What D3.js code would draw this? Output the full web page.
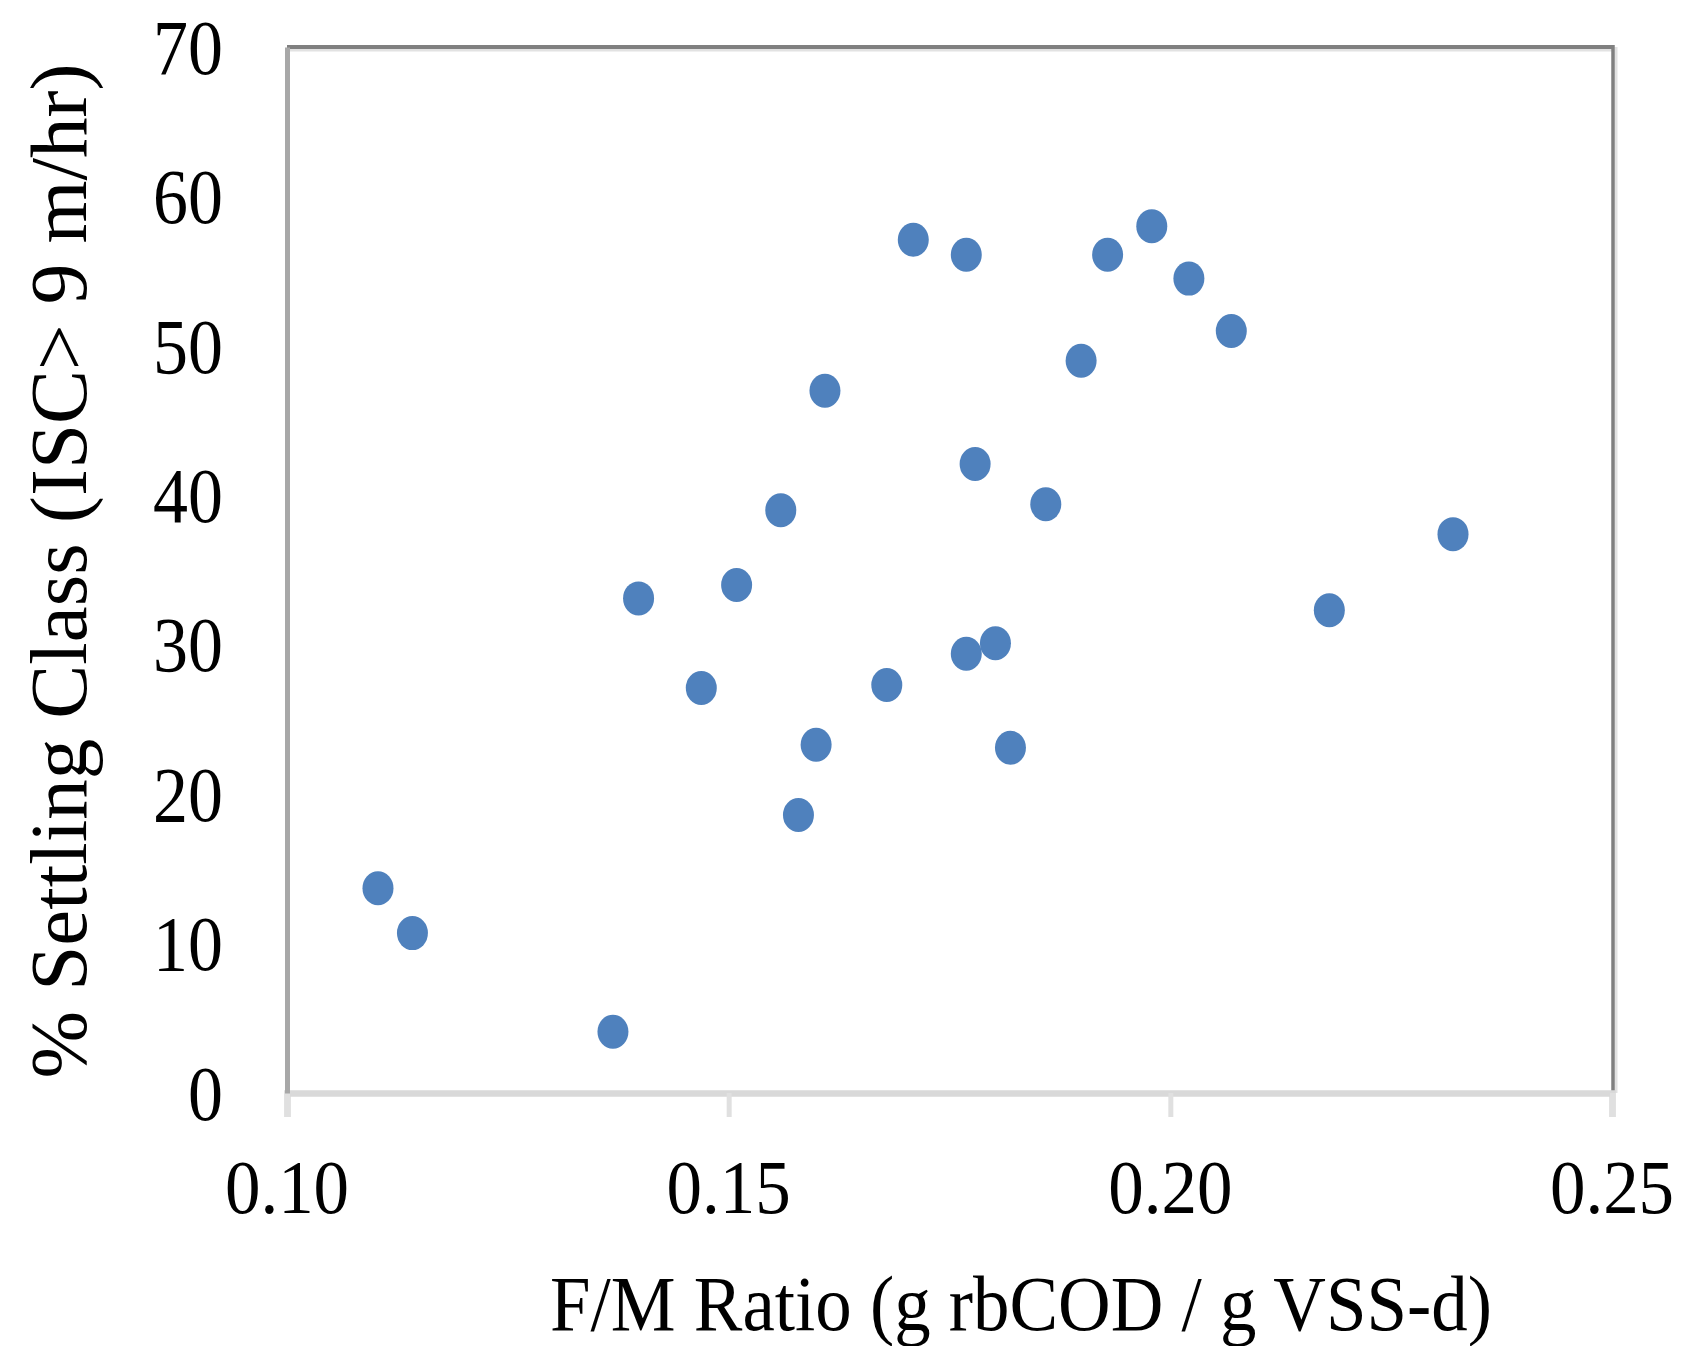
<!DOCTYPE html>
<html>
<head>
<meta charset="utf-8">
<script src="https://cdn.jsdelivr.net/npm/d3@7/dist/d3.min.js"></script>
<style>
  html, body { margin: 0; padding: 0; background: #ffffff; }
  svg { display: block; }
  text { font-family: "Liberation Serif", "Times New Roman", serif; fill: #000; }
</style>
</head>
<body>
<svg id="chart" width="1683" height="1346"></svg>
<script>
// F/M ratio (g rbCOD / g VSS-d)
const fmRatio = [0.1103, 0.1142, 0.1369, 0.1398, 0.1469, 0.1509, 0.1559, 0.1579, 0.1599, 0.1609,
                 0.1679, 0.1709, 0.1769, 0.1769, 0.1779, 0.1802, 0.1819, 0.1859, 0.1899, 0.1929,
                 0.1979, 0.2021, 0.2069, 0.2180, 0.2320];
// % settling class (ISC > 9 m/hr)
const settling = [13.7, 10.7, 4.1, 33.1, 27.1, 34.0, 39.0, 18.6, 23.3, 47.0,
                  27.3, 57.1, 56.1, 29.4, 42.1, 30.1, 23.1, 39.4, 49.0, 56.1,
                  58.0, 54.5, 51.0, 32.3, 37.4];
const xTicks = [0.10, 0.15, 0.20, 0.25];
const yTicks = [0, 10, 20, 30, 40, 50, 60, 70];
const xTitle = "F/M Ratio (g rbCOD / g VSS-d)";
const yTitle = "% Settling Class (ISC> 9 m/hr)";

(function () {
const svg = d3.select("#chart");
const pL = 287, pR = 1612, pT = 47, pB = 1093;

const x = d3.scaleLinear().domain([0.10, 0.25]).range([pL, pR]);
const y = d3.scaleLinear().domain([0, 70]).range([pB, pT]);

// Plot frame: top & right dark with light inner shadow
svg.append("line").attr("x1", pL).attr("x2", pR + 2).attr("y1", pT + 3).attr("y2", pT + 3)
  .attr("stroke", "#e2e2e2").attr("stroke-width", 3);
svg.append("line").attr("x1", pR + 4).attr("x2", pR + 4).attr("y1", pT).attr("y2", pB)
  .attr("stroke", "#e2e2e2").attr("stroke-width", 3);
svg.append("line").attr("x1", pL).attr("x2", pR + 2).attr("y1", pT).attr("y2", pT)
  .attr("stroke", "#808080").attr("stroke-width", 4);
svg.append("line").attr("x1", pR + 1).attr("x2", pR + 1).attr("y1", pT - 2).attr("y2", pB)
  .attr("stroke", "#808080").attr("stroke-width", 3.5);

// X axis (bottom) with ticks
const xAxis = d3.axisBottom(x).tickValues(xTicks).tickSize(24).tickFormat("");
const gx = svg.append("g").attr("transform", `translate(0,${pB})`).call(xAxis);
gx.select(".domain").attr("stroke", "#d9d9d9").attr("stroke-width", 6.5);
gx.selectAll(".tick line").attr("stroke", "#e0e0e0").attr("stroke-width", 5);

// Y axis (left)
const yAxis = d3.axisLeft(y).tickValues(yTicks).tickSize(0).tickFormat("");
const gy = svg.append("g").attr("transform", `translate(${pL},0)`).call(yAxis);
gy.select(".domain").attr("stroke", "#a8a8a8").attr("stroke-width", 5);

// Y tick labels
svg.append("g").selectAll("text").data(yTicks).join("text")
  .attr("transform", d => `translate(223,${y(d)}) scale(1,1.12)`)
  .attr("text-anchor", "end")
  .attr("dy", "0.34em")
  .attr("font-size", 70)
  .text(d => d);

// X tick labels
svg.append("g").selectAll("text").data(xTicks).join("text")
  .attr("transform", d => `translate(${x(d)},1213) scale(1,1.08)`)
  .attr("text-anchor", "middle")
  .attr("font-size", 71)
  .text(d => d3.format(".2f")(d));

// Points
svg.append("g").selectAll("ellipse").data(fmRatio.map((v, i) => [v, settling[i]])).join("ellipse")
  .attr("cx", d => x(d[0]))
  .attr("cy", d => y(d[1]))
  .attr("rx", 15.5)
  .attr("ry", 17)
  .attr("fill", "#4f81bd");

// X axis title (fit to measured width)
const xt = svg.append("text")
  .attr("text-anchor", "middle")
  .attr("font-size", 100)
  .text(xTitle);
const xl = xt.node().getComputedTextLength();
const xfs = 100 * 942 / xl;
xt.attr("font-size", xfs).attr("transform", `translate(1021,1330) scale(1,1.08)`);

// Y axis title
const yt = svg.append("text")
  .attr("text-anchor", "middle")
  .attr("font-size", 100)
  .text(yTitle);
const yl = yt.node().getComputedTextLength();
const yfs = 100 * 1015 / yl;
yt.attr("font-size", yfs).attr("transform", `translate(86,571) rotate(-90)`);
})();
</script>
</body>
</html>
